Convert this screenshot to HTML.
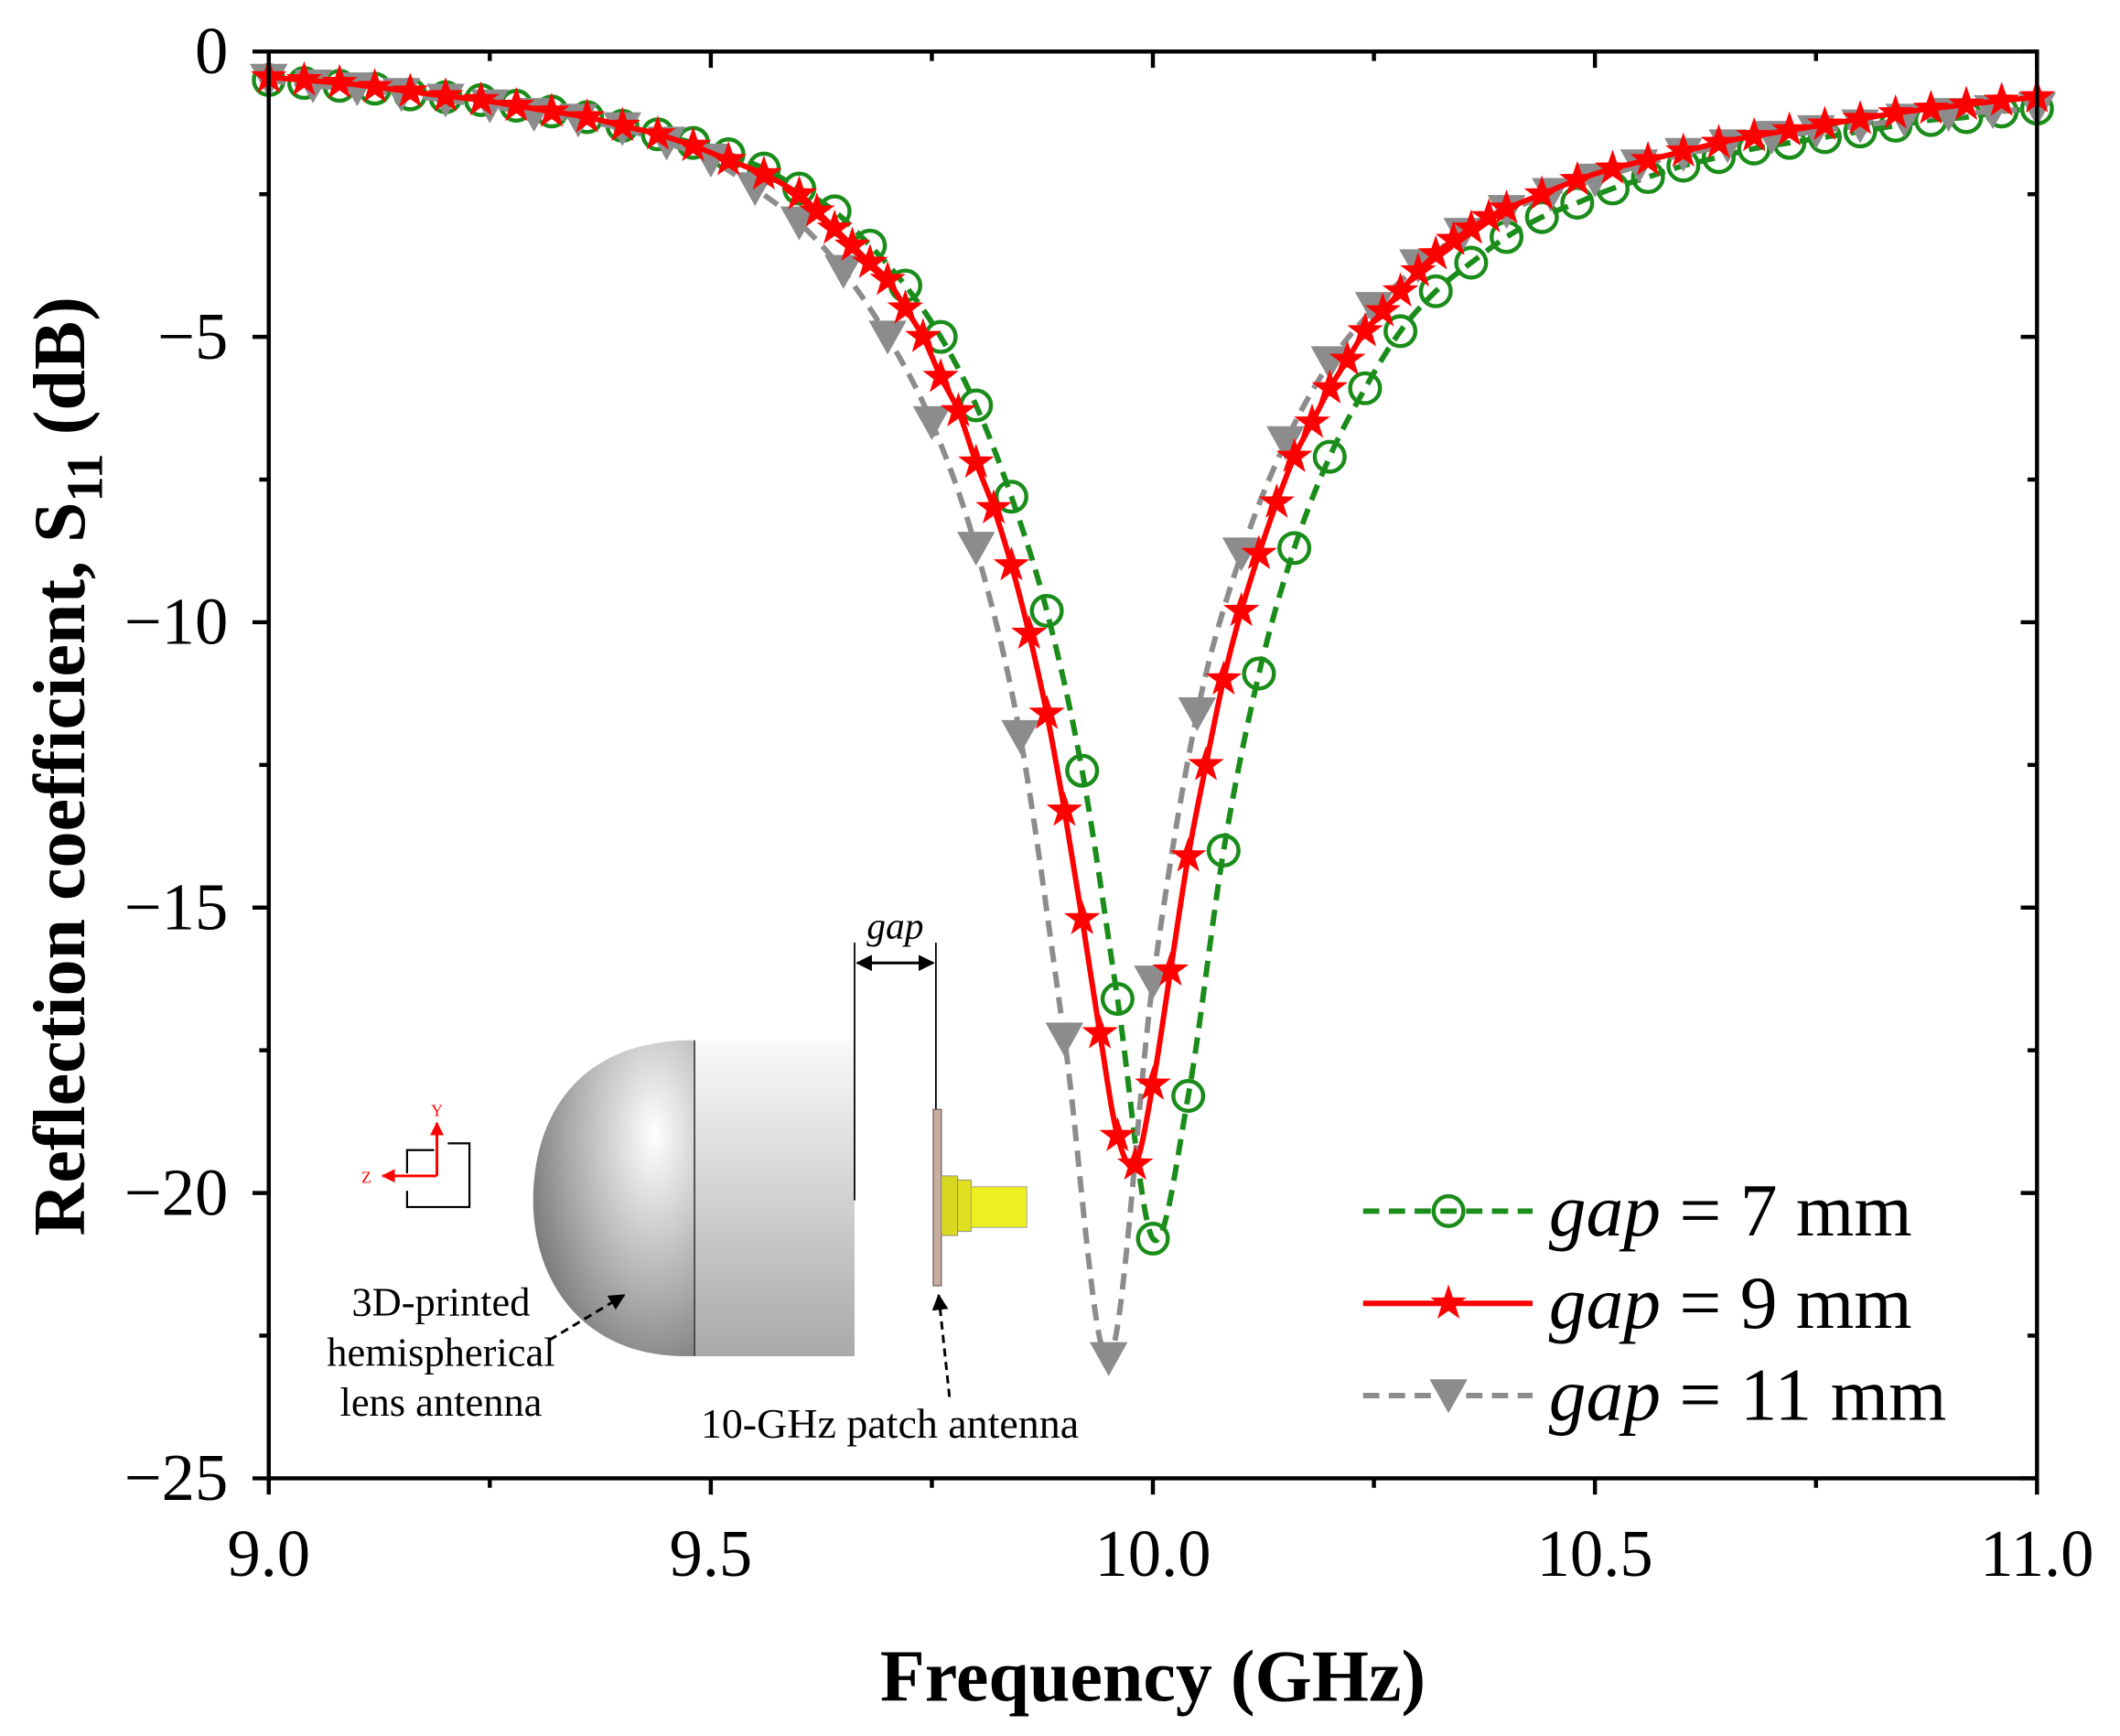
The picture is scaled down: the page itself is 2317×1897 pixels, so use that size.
<!DOCTYPE html>
<html><head><meta charset="utf-8"><style>
html,body{margin:0;padding:0;background:#fff;}
svg{display:block;font-family:"Liberation Serif",serif;}
</style></head><body>
<svg id="chart" width="2317" height="1897" viewBox="0 0 1563 1280" xmlns="http://www.w3.org/2000/svg">
<defs>
<radialGradient id="domeG" cx="0.75" cy="0.3" r="0.9"><stop offset="0" stop-color="#ffffff"/><stop offset="0.6" stop-color="#a8a8a8"/><stop offset="1" stop-color="#6a6a6a"/></radialGradient>
<linearGradient id="cylG" x1="0" y1="0" x2="0" y2="1"><stop offset="0" stop-color="#fafafa"/><stop offset="1" stop-color="#a9a9a9"/></linearGradient>
<marker id="ah" viewBox="0 0 10 10" refX="9" refY="5" markerWidth="6" markerHeight="6" orient="auto-start-reverse"><path d="M0,0 L10,5 L0,10 z" fill="#000"/></marker>
<marker id="ahr" viewBox="0 0 10 10" refX="9" refY="5" markerWidth="5" markerHeight="5" orient="auto"><path d="M0,0 L10,5 L0,10 z" fill="#f00"/></marker>
</defs>
<g id="inset">
  <path d="M512,767 L505,767 C420,770 393,830 393,885 C393,945 430,1000 505,1000 L512,1000 Z" fill="url(#domeG)"/>
  <rect x="512" y="767" width="118" height="233" fill="url(#cylG)"/>
  <line x1="512" y1="767" x2="512" y2="1000" stroke="#444" stroke-width="1.2"/>
  <line x1="630" y1="695" x2="630" y2="885" stroke="#000" stroke-width="1.2"/>
  <line x1="690" y1="695" x2="690" y2="818" stroke="#000" stroke-width="1.2"/>
  <line x1="632" y1="710" x2="688" y2="710" stroke="#000" stroke-width="2" marker-start="url(#ah)" marker-end="url(#ah)"/>
  <text x="660" y="692" font-size="28" font-style="italic" text-anchor="middle">gap</text>
  <rect x="688" y="818" width="6" height="130" fill="#c9aca0" stroke="#6b5a50" stroke-width="0.8"/>
  <rect x="694" y="867" width="12" height="44" fill="#d8d820" stroke="#888" stroke-width="0.6"/>
  <rect x="706" y="870" width="10" height="38" fill="#e0e020" stroke="#888" stroke-width="0.6"/>
  <rect x="716" y="875" width="41" height="30" fill="#eeee22" stroke="#999" stroke-width="0.6"/>
  <g>
    <path d="M320,848 L300,848 L300,865 M300,878 L300,890 L346,890 L346,843 L330,843" fill="none" stroke="#000" stroke-width="1.5"/>
    <line x1="322" y1="867" x2="322" y2="828" stroke="#f00" stroke-width="2" marker-end="url(#ahr)"/>
    <line x1="322" y1="867" x2="282" y2="867" stroke="#f00" stroke-width="2" marker-end="url(#ahr)"/>
    <text x="322" y="823" font-size="12" fill="#f00" text-anchor="middle">Y</text>
    <text x="270" y="872" font-size="12" fill="#f00" text-anchor="middle">Z</text>
  </g>
  <text font-size="30" text-anchor="middle"><tspan x="325" y="970">3D-printed</tspan><tspan x="325" y="1007">hemispherical</tspan><tspan x="325" y="1044">lens antenna</tspan></text>
  <line x1="405" y1="988" x2="460" y2="955" stroke="#000" stroke-width="2" stroke-dasharray="6,4" marker-end="url(#ah)"/>
  <text x="656" y="1060" font-size="31" text-anchor="middle">10-GHz patch antenna</text>
  <line x1="700" y1="1030" x2="692" y2="955" stroke="#000" stroke-width="2" stroke-dasharray="6,4" marker-end="url(#ah)"/>
</g>
<g id="series"></g>
<g id="axes"></g>
<text x="850" y="1254" font-size="54" font-weight="bold" text-anchor="middle">Frequency (GHz)</text>
<text transform="translate(62,565) rotate(-90)" font-size="54" font-weight="bold" text-anchor="middle">Reflection coefficient, S<tspan font-size="38" dy="13">11</tspan><tspan dy="-13"> (dB)</tspan></text>
<g id="legend"></g>
</svg>
<script>
// ---- data ----
const freq7 = [9.00,9.04,9.08,9.12,9.16,9.20,9.24,9.28,9.32,9.36,9.40,9.44,9.48,9.52,9.56,9.60,9.64,9.68,9.72,9.76,9.80,9.84,9.88,9.92,9.96,10.00,10.04,10.08,10.12,10.16,10.20,10.24,10.28,10.32,10.36,10.40,10.44,10.48,10.52,10.56,10.60,10.64,10.68,10.72,10.76,10.80,10.84,10.88,10.92,10.96,11.00];
const s11gap7 = [-0.5,-0.55,-0.6,-0.65,-0.75,-0.8,-0.85,-0.95,-1.05,-1.15,-1.3,-1.45,-1.6,-1.8,-2.05,-2.4,-2.8,-3.4,-4.1,-5.0,-6.2,-7.8,-9.8,-12.6,-16.6,-20.8,-18.3,-14.0,-10.9,-8.7,-7.1,-5.9,-4.9,-4.2,-3.7,-3.25,-2.9,-2.65,-2.4,-2.2,-2.0,-1.85,-1.7,-1.6,-1.5,-1.4,-1.3,-1.2,-1.15,-1.05,-1.0];
const freq9 = [9.00,9.04,9.08,9.12,9.16,9.20,9.24,9.28,9.32,9.36,9.40,9.44,9.48,9.52,9.56,9.60,9.62,9.64,9.66,9.68,9.70,9.72,9.74,9.76,9.78,9.80,9.82,9.84,9.86,9.88,9.90,9.92,9.94,9.96,9.98,10.00,10.02,10.04,10.06,10.08,10.10,10.12,10.14,10.16,10.18,10.20,10.22,10.24,10.26,10.28,10.30,10.32,10.34,10.36,10.38,10.40,10.44,10.48,10.52,10.56,10.60,10.64,10.68,10.72,10.76,10.80,10.84,10.88,10.92,10.96,11.00];
const s11gap9 = [-0.45,-0.5,-0.55,-0.62,-0.7,-0.78,-0.85,-0.95,-1.05,-1.15,-1.3,-1.45,-1.65,-1.9,-2.15,-2.5,-2.8,-3.1,-3.4,-3.7,-4.0,-4.5,-5.0,-5.7,-6.3,-7.2,-8.0,-9.0,-10.2,-11.6,-13.3,-15.2,-17.2,-19.0,-19.5,-18.1,-16.1,-14.1,-12.5,-11.0,-9.8,-8.8,-7.9,-7.1,-6.5,-5.9,-5.4,-4.9,-4.55,-4.2,-3.85,-3.55,-3.3,-3.1,-2.9,-2.75,-2.5,-2.25,-2.05,-1.9,-1.75,-1.6,-1.48,-1.38,-1.28,-1.18,-1.08,-1.0,-0.93,-0.86,-0.8];
const freq11 = [9.00,9.05,9.10,9.15,9.20,9.25,9.30,9.35,9.40,9.45,9.50,9.55,9.60,9.65,9.70,9.75,9.80,9.85,9.90,9.95,10.00,10.05,10.10,10.15,10.20,10.25,10.30,10.35,10.40,10.45,10.50,10.55,10.60,10.65,10.70,10.75,10.80,10.85,10.90,10.95,11.00];
const s11gap11 = [-0.5,-0.6,-0.65,-0.75,-0.85,-0.95,-1.1,-1.2,-1.35,-1.6,-1.9,-2.4,-3.0,-3.85,-5.0,-6.5,-8.7,-12.0,-17.3,-22.9,-16.3,-11.6,-8.8,-6.85,-5.45,-4.5,-3.75,-3.2,-2.8,-2.5,-2.25,-2.0,-1.8,-1.65,-1.5,-1.4,-1.3,-1.2,-1.1,-1.05,-1.0];
const xTicks = [9.0,9.5,10.0,10.5,11.0];
const xTickLabels = ["9.0","9.5","10.0","10.5","11.0"];
const yTicks = [0,-5,-10,-15,-20,-25];
const yTickLabels = ["0","\u22125","\u221210","\u221215","\u221220","\u221225"];
const legendLabels = ["7 mm","9 mm","11 mm"];

const L=198,R=1502,T=38,B=1090;
const xs = f => L + (f-9)/(11-9)*(R-L);
const ys = v => T + (0 - v)/(25)*(B-T);
const NS="http://www.w3.org/2000/svg";
function mk(tag, parent, attrs){const e=document.createElementNS(NS,tag);for(const k in attrs)e.setAttribute(k,attrs[k]);parent.appendChild(e);return e;}

function smoothPath(px,py){
  let d=`M${px[0]},${py[0]}`;
  for(let i=0;i<px.length-1;i++){
    const x0=px[Math.max(i-1,0)],y0=py[Math.max(i-1,0)],x1=px[i],y1=py[i],x2=px[i+1],y2=py[i+1],x3=px[Math.min(i+2,px.length-1)],y3=py[Math.min(i+2,px.length-1)];
    d+=` C${x1+(x2-x0)/6},${y1+(y2-y0)/6} ${x2-(x3-x1)/6},${y2-(y3-y1)/6} ${x2},${y2}`;
  }
  return d;
}
function markerShape(g,type,x,y,color){
  let e;
  if(type==='circle'){e=mk('circle',g,{cx:x,cy:y,r:11,fill:'none',stroke:color,'stroke-width':3});}
  else if(type==='star'){
    let p=[];for(let k=0;k<10;k++){const r=k%2?5.5:14;const a=-Math.PI/2+k*Math.PI/5;p.push((x+r*Math.cos(a)).toFixed(1)+','+(y+r*Math.sin(a)).toFixed(1));}
    e=mk('polygon',g,{points:p.join(' '),fill:color});
  } else {e=mk('polygon',g,{points:`${x-14},${y-12} ${x+14},${y-12} ${x},${y+13}`,fill:color});}
  return e;
}
const series=[
  {name:'gap-7mm',f:freq7,v:s11gap7,color:'#1a8c1a',dash:'12,7',type:'circle',w:4},
  {name:'gap-11mm',f:freq11,v:s11gap11,color:'#8c8c8c',dash:'12,7',type:'tri',w:4},
  {name:'gap-9mm',f:freq9,v:s11gap9,color:'#ff0000',dash:'',type:'star',w:4}
];
const sg=document.getElementById('series');
series.forEach(s=>{
  const g=mk('g',sg,{});
  
  
  const px=s.f.map(xs),py=s.v.map(ys);
  const p=mk('path',g,{d:smoothPath(px,py),fill:'none',stroke:s.color,'stroke-width':s.w});
  if(s.dash)p.setAttribute('stroke-dasharray',s.dash);
  
  
  px.forEach((x,i)=>{const m=markerShape(g,s.type,x,py[i],s.color);
    
    
  });
});
// axes
const ag=document.getElementById('axes');
const frame=mk('rect',ag,{x:L,y:T,width:R-L,height:B-T,fill:'none',stroke:'#000','stroke-width':3});


for(let f=9;f<=11.001;f+=0.25){
  const x=xs(f),major=Math.abs(f*2-Math.round(f*2))<1e-6;
  mk('line',ag,{x1:x,y1:B,x2:x,y2:B+(major?12:7),stroke:'#000','stroke-width':3});
  mk('line',ag,{x1:x,y1:T,x2:x,y2:T+(major?12:7),stroke:'#000','stroke-width':3});
}
for(let v=0;v>=-25.001;v-=2.5){
  const y=ys(v),major=Math.abs(v/5-Math.round(v/5))<1e-6;
  mk('line',ag,{x1:L,y1:y,x2:L-(major?12:7),y2:y,stroke:'#000','stroke-width':3});
  mk('line',ag,{x1:R,y1:y,x2:R-(major?12:7),y2:y,stroke:'#000','stroke-width':3});
}
xTicks.forEach((f,i)=>{const t=mk('text',ag,{x:xs(f),y:B+72,'font-size':49,'text-anchor':'middle'});t.textContent=xTickLabels[i];
  
  });
yTicks.forEach((v,i)=>{const t=mk('text',ag,{x:L-30,y:ys(v)+16,'font-size':49,'text-anchor':'end'});t.textContent=yTickLabels[i];
  
  });
// legend
const lg=document.getElementById('legend');
const legSeries=[series[0],series[2],series[1]];
legSeries.forEach((s,i)=>{
  const y=893+i*68;
  const g=mk('g',lg,{});
  
  
  const l=mk('line',g,{x1:1005,y1:y,x2:1130,y2:y,stroke:s.color,'stroke-width':4});
  if(s.dash)l.setAttribute('stroke-dasharray',s.dash);
  markerShape(g,s.type,1068,y,s.color);
  const t=mk('text',g,{x:1142,y:y+18,'font-size':55});
  const it=mk('tspan',t,{'font-style':'italic'});it.textContent='gap';
  const r=mk('tspan',t,{});r.textContent=' = '+legendLabels[i];
});
</script>
</body></html>
